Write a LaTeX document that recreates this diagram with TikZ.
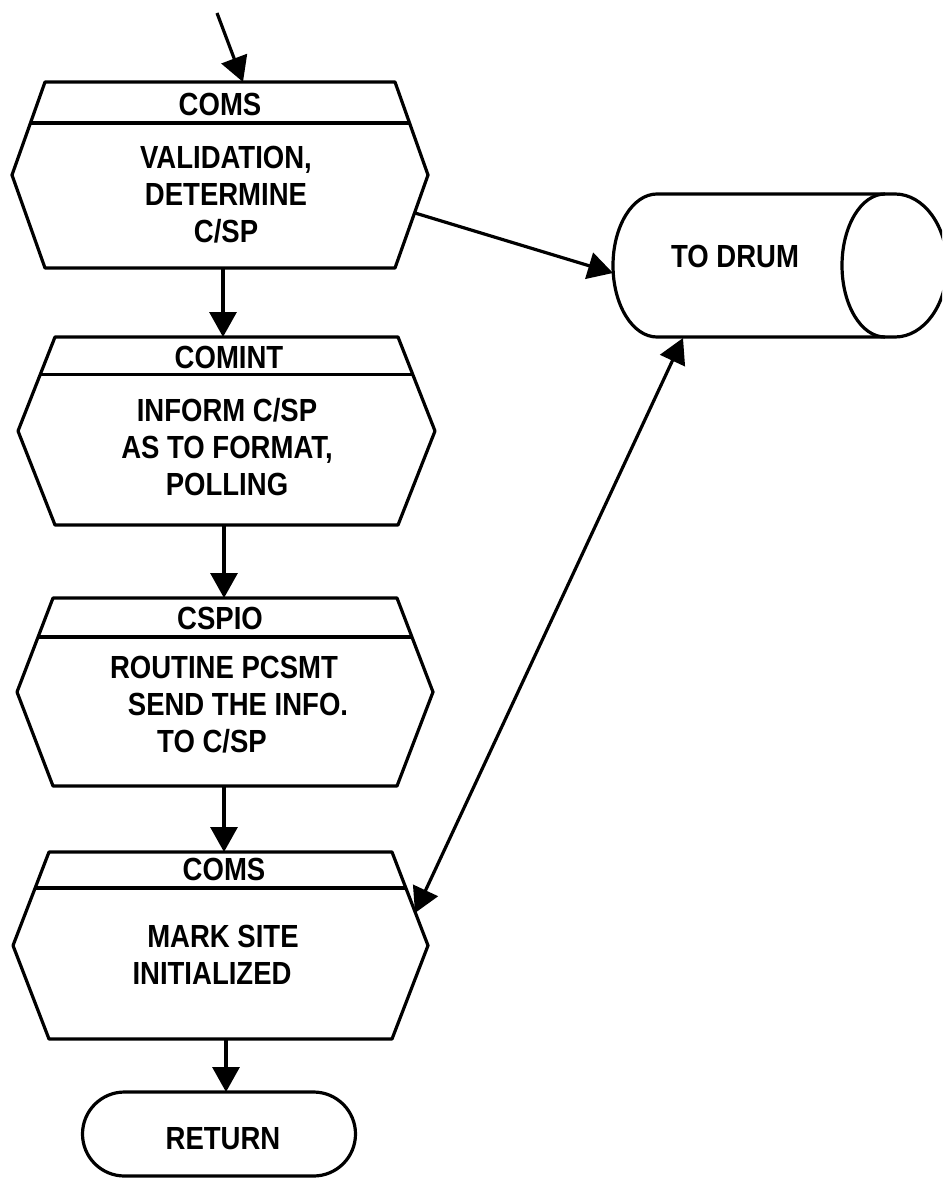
\documentclass[tikz,border=0pt]{standalone}
\usepackage{fontspec}
\setmainfont{Liberation Sans}[FakeStretch=0.86]
\usetikzlibrary{arrows.meta,calc}
\tikzset{
  shapeline/.style={line width=3.2pt, line join=round},
  conn/.style={line width=3.2pt, -{Triangle[length=25pt,width=27pt]}},
  dconn/.style={line width=3.2pt, {Triangle[length=25pt,width=27pt]}-{Triangle[length=25pt,width=27pt]}},
  lbl/.style={font=\fontsize{32}{37}\selectfont\bfseries, align=center, inner sep=0pt},
}
\newcommand\hexproc[7]{%
  % #1 name, #2 left x, #3 right x, #4 inset, #5 top, #6 bottom, #7 separator fraction
  \coordinate (#1-tl) at ({#2+#4},#5);
  \coordinate (#1-tr) at ({#3-#4},#5);
  \coordinate (#1-mr) at (#3,{(#5+#6)/2});
  \coordinate (#1-br) at ({#3-#4},#6);
  \coordinate (#1-bl) at ({#2+#4},#6);
  \coordinate (#1-ml) at (#2,{(#5+#6)/2});
  \draw[shapeline] (#1-tl) -- (#1-tr) -- (#1-mr) -- (#1-br) -- (#1-bl) -- (#1-ml) -- cycle;
  \draw[shapeline] ($(#1-tl)!#7!(#1-ml)$) -- ($(#1-tr)!#7!(#1-mr)$);
}
\begin{document}
\begin{tikzpicture}[x=1pt,y=-1pt]
\clip (0,0) rectangle (942,1182);
\fill[white] (0,0) rectangle (942,1182);

% process boxes
\hexproc{b1}{12}{428}{33}{82}{268}{0.44}
\hexproc{b2}{18}{435}{37}{337}{525}{0.40}
\hexproc{b3}{17}{433}{36}{598}{786}{0.415}
\hexproc{b4}{13}{428}{36}{852}{1039}{0.385}

\node[lbl] (b1h) at (220,104) {COMS};
\node[lbl] (b1t) at (226,195) {VALIDATION,\\DETERMINE\\C/SP};
\node[lbl] (b2h) at (229,357) {COMINT};
\node[lbl] (b2t) at (227,447) {INFORM C/SP\\AS TO FORMAT,\\POLLING};
\node[lbl] (b3h) at (220,618) {CSPIO};
\node[lbl] (b3t) at (224,705) {ROUTINE PCSMT\\\hspace*{28pt}SEND THE INFO.\\TO C/SP\hspace*{24pt}};
\node[lbl] (b4h) at (224,869) {COMS};
\node[lbl] (b4t) at (218,955) {\hspace*{10pt}MARK SITE\\INITIALIZED\hspace*{12pt}};

% terminal
\node[shapeline, draw, rounded corners=42pt, minimum width=273pt, minimum height=84pt, inner sep=0pt] (ret) at (219,1134) {};
\node[lbl] (rett) at (223,1139) {RETURN};

% drum storage
\draw[shapeline] (657,194) -- (895,194)
  arc[start angle=-90, end angle=90, x radius=52, y radius=71.5]
  -- (657,337)
  arc[start angle=90, end angle=270, x radius=44, y radius=71.5] -- cycle;
\draw[shapeline] (885,194) arc[start angle=-90, end angle=-270, x radius=43, y radius=71.5];
\node[lbl] (drum) at (735,256) {TO DRUM};

% connection points
\coordinate (in) at (217,13);
\coordinate (b1n) at (243,82);
\coordinate (b1s) at (223,268);
\coordinate (b2n) at (223,337);
\coordinate (b2s) at (224,525);
\coordinate (b3n) at (224,598);
\coordinate (b3s) at (224,786);
\coordinate (b4n) at (224,852);
\coordinate (b4s) at (226,1039);
\coordinate (retn) at (226,1092);
\coordinate (b1e) at (415,213);
\coordinate (drw) at (613,273);
\coordinate (drs) at (683,338);
\coordinate (b4e) at (415,913);

% connectors
\draw[conn] (in) -- (b1n);
\draw[conn] (b1s) -- (b2n);
\draw[conn] (b2s) -- (b3n);
\draw[conn] (b3s) -- (b4n);
\draw[conn] (b4s) -- (retn);
\draw[conn] (b1e) -- (drw);
\draw[dconn] (b4e) -- (drs);
\end{tikzpicture}
\end{document}
